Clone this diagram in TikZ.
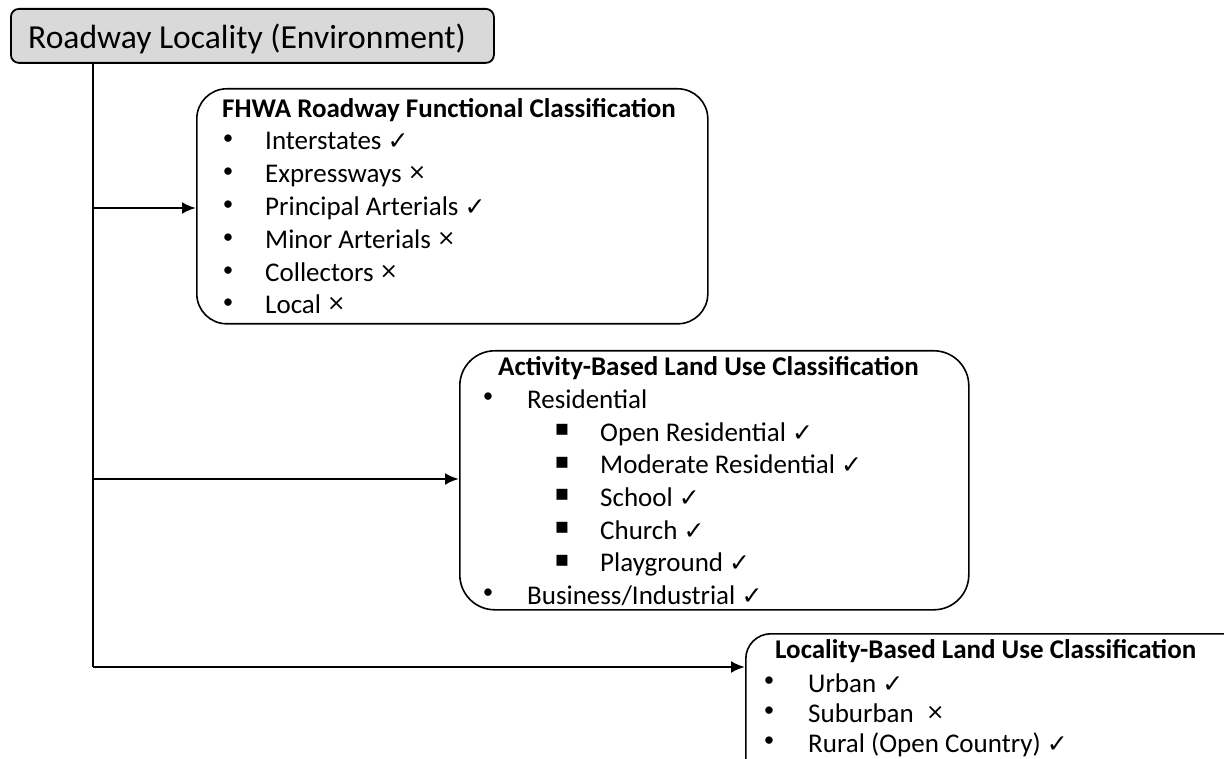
\documentclass[tikz,border=0pt]{standalone}
\usepackage{fontspec}
\setmainfont{Carlito}
\newfontfamily\symfont{DejaVu Sans}
\usetikzlibrary{arrows.meta}
\newcommand\yes{{\symfont\fontsize{25}{25}\selectfont ✓}}
\newcommand\nope{\raisebox{3pt}{\symfont\fontsize{22}{22}\selectfont ×}}
\begin{document}
\begin{tikzpicture}[x=1pt,y=-1pt,
  box/.style={draw, line width=1.6pt, rounded corners=30pt, anchor=north west, inner sep=0pt},
  txt/.style={anchor=base west, inner sep=0pt, font=\fontsize{27}{27}\selectfont},
  head/.style={anchor=base west, inner sep=0pt, font=\bfseries\fontsize{27}{27}\selectfont},
  dot/.style={anchor=center, inner sep=0pt, font=\fontsize{21}{21}\selectfont},
  sq/.style={anchor=center, inner sep=0pt, font=\symfont\fontsize{22}{22}\selectfont},
  trunk/.style={line width=2.6pt},
  link/.style={line width=2.6pt, -{Latex[length=14pt,width=12pt]}}]
\useasboundingbox (0,0) rectangle (1224,759);
\clip (0,0) rectangle (1224,759);

% root box
\node[box, rounded corners=8pt, fill=black!15, line width=1.8pt,
      minimum width=483pt, minimum height=54pt] (root) at (10,8) {};
\node[anchor=base west, inner sep=0pt, font=\fontsize{33.6}{33.6}\selectfont] (roottxt) at (28,49) {Roadway Locality (Environment)};

% FHWA functional classes
\node[box, minimum width=511pt, minimum height=235pt] (fhwa) at (196,88) {};
\node[head] (fhwah) at (222,118) {FHWA Roadway Functional Classification};
\foreach \t/\m [count=\i] in {Interstates/\yes, Expressways/\nope, Principal Arterials/\yes,
    Minor Arterials/\nope, Collectors/\nope, Local/\nope}{
  \node[dot] (fb\i) at (228,{140+(\i-1)*32.8}) {•};
  \node[txt] (ft\i) at (265,{150+(\i-1)*32.8}) {\t\ \m};
}

% activity-based land use
\node[box, rounded corners=35pt, minimum width=509pt, minimum height=259pt] (act) at (459,350) {};
\node[head] (acth) at (498,376) {Activity-Based Land Use Classification};
\node[dot] (ab1) at (488,398) {•};
\node[txt] (at1) at (527,408) {Residential};
\foreach \t [count=\i] in {Open Residential, Moderate Residential, School, Church, Playground}{
  \node[sq] (sb\i) at (562,{430+(\i-1)*32.7}) {▪};
  \node[txt] (st\i) at (600,{441+(\i-1)*32.7}) {\t\ \yes};
}
\node[dot] (ab2) at (488,594) {•};
\node[txt] (at2) at (527,604) {Business/Industrial \yes};

% locality-based land use
\node[box, rounded corners=25pt, minimum width=540pt, minimum height=160pt] (loc) at (745,633) {};
\node[head] (loch) at (775,658) {Locality-Based Land Use Classification};
\foreach \t/\m [count=\i] in {Urban/\yes, Suburban\ /\nope, Rural (Open Country)/\yes}{
  \node[dot] (lb\i) at (769,{682+(\i-1)*30}) {•};
  \node[txt] (lt\i) at (808,{692+(\i-1)*30}) {\t\ \m};
}

% connectors
\coordinate (t0) at (93,62);
\coordinate (t1) at (93,208);
\coordinate (t2) at (93,479);
\coordinate (t3) at (93,667);
\draw[trunk] (t0) -- (t3);
\draw[link] (t1) -- (t1 -| fhwa.west);
\draw[link] (t2) -- (t2 -| act.west);
\draw[link] (t3) -- (t3 -| loc.west);
\end{tikzpicture}
\end{document}
